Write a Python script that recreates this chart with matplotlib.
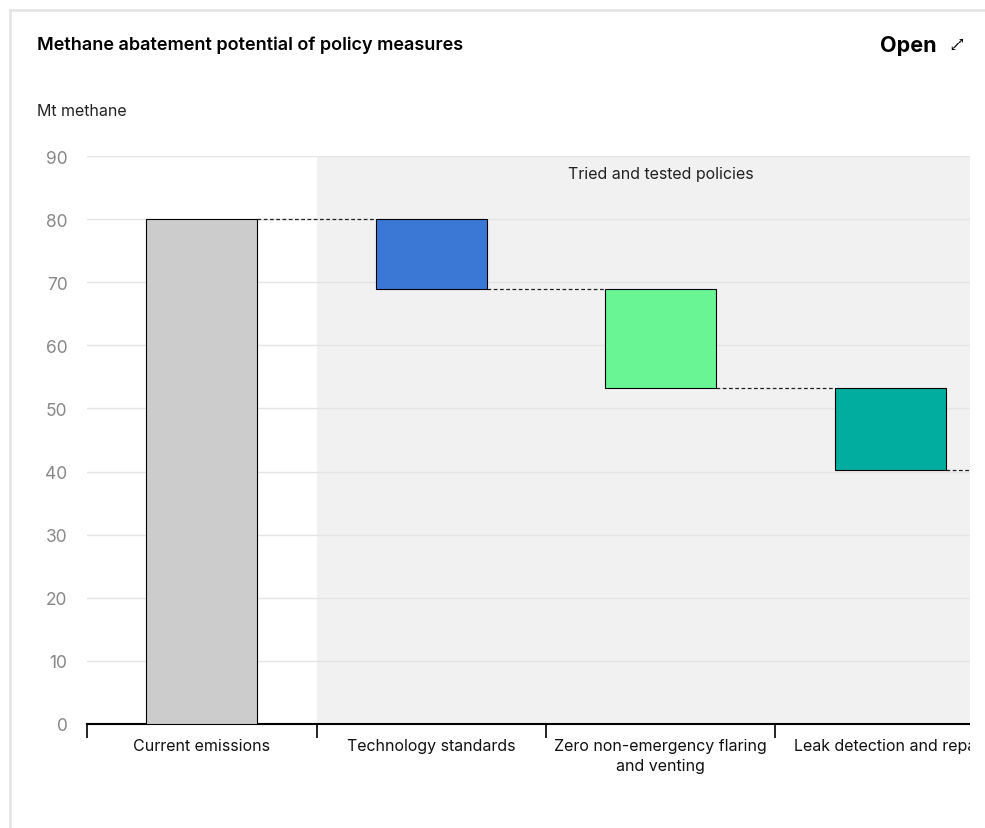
import matplotlib.pyplot as plt
from matplotlib.lines import Line2D
from matplotlib.patches import Rectangle
from matplotlib import font_manager, ft2font

plt.rcParams['font.family'] = ['Inter', 'DejaVu Sans']

# data
categories = ['Current emissions', 'Technology standards',
              'Zero non-emergency flaring\nand venting', 'Leak detection and repair']
start_value = 80.0
reductions = [11.0, 15.8, 13.0]
colors = ['#cccccc', '#3b78d6', '#69f594', '#00ad9f']

W, H = 985, 829
fig = plt.figure(figsize=(W / 100, H / 100), dpi=100)
ax = fig.add_axes([87 / W, 104 / H, 883 / W, 568 / H])

bw = 0.485
# shaded region for policies
ax.axvspan(0.5, 4.0, color='#f1f1f1', zorder=0, lw=0)
ax.text(2, 87.3, 'Tried and tested policies', ha='center', va='center', fontsize=11.5, color='#222222')

# waterfall bars
ax.bar(0, start_value, width=bw, color=colors[0], edgecolor='black', lw=0.8, zorder=3)
level = start_value
levels = [level]
for i, r in enumerate(reductions):
    ax.bar(i + 1, r, bottom=level - r, width=bw, color=colors[i + 1], edgecolor='black', lw=0.8, zorder=3)
    level -= r
    levels.append(level)

# connectors
for i, lv in enumerate(levels):
    ax.plot([i + bw / 2, i + 1 - bw / 2], [lv, lv], ls=(0, (3, 2)), color='#222222', lw=0.9, zorder=2)

ax.set_yticks(range(0, 91, 10))
ax.yaxis.grid(True, color='#e4e4e4', lw=1, zorder=1)
ax.set_axisbelow(True)
ax.tick_params(axis='y', length=0, pad=14, labelsize=12.5, labelcolor='#888888')

ax.set_xticks([-0.5, 0.5, 1.5, 2.5, 3.5])
ax.set_xticklabels([])
ax.set_xticks(range(len(categories)), minor=True)
ax.set_xticklabels(categories, minor=True, fontsize=11.5, color='#111111', linespacing=1.45)
ax.tick_params(axis='x', which='major', length=10, width=1.2, color='black', direction='out')
ax.tick_params(axis='x', which='minor', length=0, pad=10)
ax.set_xlim(-0.5, -0.5 + 883 / 229.5)
ax.set_ylim(0, 90)

for s in ['top', 'right', 'left']:
    ax.spines[s].set_visible(False)
ax.spines['bottom'].set_linewidth(1.5)

# chart area is cut at the right
fig.add_artist(Rectangle((970 / W, 0), 20 / W, 1 - 13 / H, transform=fig.transFigure,
                         facecolor='white', edgecolor='none', zorder=10))

# card border
fig.add_artist(Line2D([10 / W, 1], [1 - 11 / H, 1 - 11 / H], color='#e6e6e6', lw=2, zorder=11))
fig.add_artist(Line2D([10 / W, 10 / W], [0, 1 - 11 / H], color='#e6e6e6', lw=2, zorder=11))

fig.text(37 / W, 1 - 45 / H, 'Methane abatement potential of policy measures',
         fontsize=13, fontweight='semibold', va='center', ha='left')
fig.text(880 / W, 1 - 46 / H, 'Open', fontsize=15.5, fontweight='bold', va='center', ha='left')

# find an installed font that has the expand arrow
icon_font = None
for path in font_manager.findSystemFonts():
    try:
        f = ft2font.FT2Font(path)
        if f.get_char_index(0x2922):
            icon_font = font_manager.FontProperties(fname=path)
            break
    except Exception:
        pass
if icon_font is not None:
    fig.text(949 / W, 1 - 46 / H, '\u2922', fontproperties=icon_font, fontsize=10, va='center', ha='left')
else:
    # no font has the glyph: draw the two-headed arrow as a shape
    ax.annotate('', xy=(961 / W, 1 - 40 / H), xytext=(950 / W, 1 - 51 / H),
                xycoords='figure fraction', textcoords='figure fraction',
                arrowprops=dict(arrowstyle='<|-|>', color='black', lw=1.3,
                                mutation_scale=7, shrinkA=0, shrinkB=0),
                annotation_clip=False)

fig.text(37 / W, 1 - 112 / H, 'Mt methane', fontsize=11.5, va='center', ha='left', color='#222222')

fig.savefig('out.png', dpi=100)
